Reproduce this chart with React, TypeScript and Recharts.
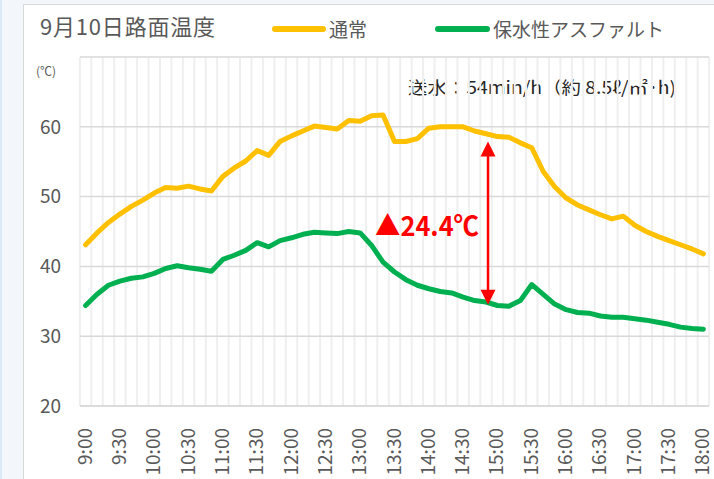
import { LineChart, Line, XAxis, YAxis, CartesianGrid, ReferenceLine } from 'recharts';

// 10分ごとの時刻
const times = [
  '9:00', '9:10', '9:20', '9:30', '9:40', '9:50',
  '10:00', '10:10', '10:20', '10:30', '10:40', '10:50',
  '11:00', '11:10', '11:20', '11:30', '11:40', '11:50',
  '12:00', '12:10', '12:20', '12:30', '12:40', '12:50',
  '13:00', '13:10', '13:20', '13:30', '13:40', '13:50',
  '14:00', '14:10', '14:20', '14:30', '14:40', '14:50',
  '15:00', '15:10', '15:20', '15:30', '15:40', '15:50',
  '16:00', '16:10', '16:20', '16:30', '16:40', '16:50',
  '17:00', '17:10', '17:20', '17:30', '17:40', '17:50',
  '18:00',
];

// 通常舗装
const normal = [
  43.1, 44.8, 46.3, 47.5, 48.6, 49.5, 50.5, 51.3, 51.2, 51.5,
  51.1, 50.8, 52.9, 54.1, 55.1, 56.6, 55.9, 57.9, 58.7, 59.4,
  60.1, 59.9, 59.7, 60.9, 60.8, 61.6, 61.7, 57.9, 57.9, 58.3,
  59.8, 60.0, 60.0, 60.0, 59.4, 59.0, 58.6, 58.5, 57.7, 57.0,
  53.6, 51.4, 49.8, 48.8, 48.1, 47.4, 46.8, 47.2, 45.9, 45.0,
  44.3, 43.7, 43.1, 42.5, 41.8,
];

// 保水性アスファルト
const water = [
  34.4, 36.0, 37.3, 37.9, 38.3, 38.5, 39.0, 39.7, 40.1, 39.8,
  39.6, 39.3, 41.0, 41.6, 42.3, 43.4, 42.8, 43.7, 44.1, 44.6,
  44.9, 44.8, 44.7, 45.0, 44.8, 43.0, 40.6, 39.2, 38.1, 37.3,
  36.8, 36.4, 36.2, 35.6, 35.1, 34.9, 34.4, 34.3, 35.1, 37.4,
  36.0, 34.6, 33.8, 33.4, 33.3, 32.9, 32.7, 32.7, 32.5, 32.3,
  32.0, 31.7, 31.3, 31.1, 31.0,
];

const yTicks = [20, 30, 40, 50, 60, 70];

// 温度差の矢印
const diffTime = '14:50';
const diffLow = 34.5;
const diffHigh = 57.9;
const diffLabel = '▲24.4℃';

const data = times.map((t, i) => ({ time: t, normal: normal[i], water: water[i] }));

const FONT = '"Noto Sans CJK JP", "Noto Sans", sans-serif';
const GRAY = '#595959';
const YELLOW = '#FFC000';
const GREEN = '#00B050';
const PAD = 5.6;

const XTick = ({ x, y, payload }: any) => (
  <text
    transform={`translate(${x + 6},${y + 14}) rotate(-90)`}
    textAnchor="end"
    fontSize={19}
    fill={GRAY}
    fontFamily={FONT}
  >
    {payload.value}
  </text>
);

const DiffArrow = (props: any) => {
  const { x1, y1, y2 } = props;
  const top = Math.min(y1, y2);
  const bot = Math.max(y1, y2);
  const x = x1 + 2;
  const mid = (top + bot) / 2;
  return (
    <g>
      <line x1={x} x2={x} y1={top + 12} y2={bot - 12} stroke="#FF0000" strokeWidth={2.5} />
      <polygon points={`${x},${top} ${x - 7.5},${top + 15} ${x + 7.5},${top + 15}`} fill="#FF0000" />
      <polygon points={`${x},${bot} ${x - 7.5},${bot - 15} ${x + 7.5},${bot - 15}`} fill="#FF0000" />
      <text
        x={x - 113}
        y={mid + 12.5}
        fontSize={27}
        fontWeight="bold"
        fill="#FF0000"
        fontFamily={FONT}
        textLength={104}
        lengthAdjust="spacingAndGlyphs"
      >
        {diffLabel}
      </text>
    </g>
  );
};

const LegendItem = ({ color, label, left, lineW }: any) => (
  <div style={{ position: 'absolute', left, top: 16, display: 'flex', alignItems: 'center', height: 26 }}>
    <div style={{ width: lineW, height: 6, borderRadius: 3, background: color }} />
    <span style={{ marginLeft: 3, fontSize: 19, color: GRAY, lineHeight: '26px' }}>{label}</span>
  </div>
);

export default function App() {
  const n = times.length;
  const vGen = ({ offset }: any) => {
    const step = (offset.width - 2 * PAD) / (n - 1);
    const xs: number[] = [];
    for (let i = 0; i <= n; i++) xs.push(offset.left + PAD + step * (i - 0.5));
    return xs;
  };

  return (
    <div
      style={{
        position: 'absolute',
        left: 0,
        top: 0,
        width: 714,
        height: 479,
        background: '#F3F7FB',
        borderLeft: '2px solid #DCEAF8',
        boxSizing: 'border-box',
        fontFamily: FONT,
        overflow: 'hidden',
      }}
    >
      <div
        style={{
          position: 'absolute',
          left: 21,
          top: 4,
          width: 700,
          height: 474,
          background: '#fff',
          border: '1px solid #D9D9D9',
        }}
      />
      <div style={{ position: 'absolute', left: 38, top: 9, fontSize: 22, color: GRAY, lineHeight: '32px', letterSpacing: 0.8 }}>
        9月10日路面温度
      </div>
      <LegendItem color={YELLOW} label="通常" left={270} lineW={54} />
      <LegendItem color={GREEN} label="保水性アスファルト" left={433} lineW={55} />
      <div style={{ position: 'absolute', left: 34, top: 62, fontSize: 12, color: GRAY }}>(℃)</div>
      <svg style={{ position: 'absolute', left: 0, top: 0 }} width={714} height={110}>
        <text
          x={406}
          y={94}
          fontSize={17.5}
          fill="#262626"
          fontFamily={FONT}
          textLength={268}
          lengthAdjust="spacingAndGlyphs"
        >
          送水：54min/h（約 8.5ℓ/㎡･h)
        </text>
      </svg>
      <div style={{ position: 'absolute', left: 0, top: 0 }}>
        <LineChart width={714} height={479} data={data} margin={{ top: 57, right: 7, left: 0, bottom: 0 }}>
          <CartesianGrid horizontal={false} stroke="#EFEFEF" strokeWidth={2} verticalCoordinatesGenerator={vGen} />
          <CartesianGrid vertical={false} stroke="#D9D9D9" strokeWidth={1.5} />
          <XAxis
            dataKey="time"
            interval={2}
            height={73}
            padding={{ left: PAD, right: PAD }}
            tick={<XTick />}
            tickLine={false}
            axisLine={{ stroke: '#D9D9D9', strokeWidth: 1.5 }}
          />
          <YAxis
            domain={[20, 70]}
            ticks={yTicks}
            width={78}
            tickSize={0}
            tickMargin={19}
            axisLine={false}
            tickLine={false}
            tickFormatter={(v: number) => (v === 70 ? '' : String(v))}
            tick={{ fontSize: 19, fill: GRAY, fontFamily: FONT }}
          />
          <Line
            dataKey="normal"
            stroke={YELLOW}
            strokeWidth={5}
            dot={false}
            type="linear"
            strokeLinejoin="round"
            strokeLinecap="round"
            isAnimationActive={false}
          />
          <Line
            dataKey="water"
            stroke={GREEN}
            strokeWidth={5}
            dot={false}
            type="linear"
            strokeLinejoin="round"
            strokeLinecap="round"
            isAnimationActive={false}
          />
          <ReferenceLine
            segment={[
              { x: diffTime, y: diffLow },
              { x: diffTime, y: diffHigh },
            ]}
            shape={(p: any) => <DiffArrow {...p} />}
          />
        </LineChart>
      </div>
    </div>
  );
}
